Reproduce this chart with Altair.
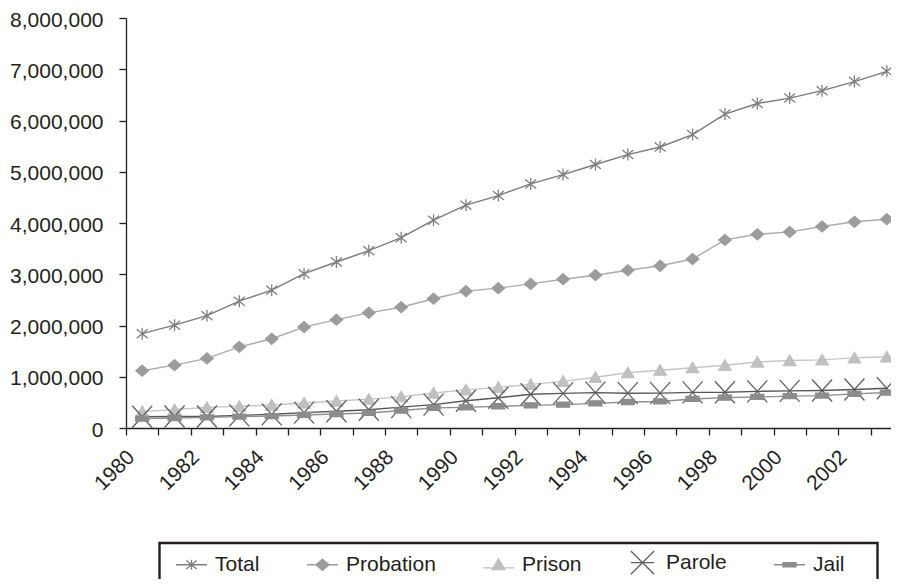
import altair as alt
import pandas as pd

years = list(range(1980, 2004))
total = [1840400, 2006600, 2192600, 2475100, 2689200, 3011500, 3239400, 3459600,
         3714100, 4055600, 4348000, 4535600, 4762600, 4944000, 5141300, 5335100,
         5482700, 5725800, 6126100, 6331400, 6437400, 6581700, 6758800, 6960000]
probation = [1118097, 1225934, 1357264, 1582947, 1740948, 1968712, 2114621, 2247158,
             2356483, 2522125, 2670234, 2728472, 2811611, 2903061, 2981022, 3077861,
             3164996, 3296513, 3670441, 3779922, 3826209, 3931731, 4024067, 4073987]
prison = [319598, 360029, 402914, 423898, 448264, 487593, 526436, 562814,
          607766, 683367, 743382, 792535, 850566, 909381, 990147, 1078542,
          1127528, 1176564, 1224469, 1287172, 1316333, 1330007, 1367547, 1390279]
parole = [220438, 225539, 224604, 246440, 266992, 300203, 325638, 355505,
          407977, 456803, 531407, 590442, 658601, 676100, 690371, 679421,
          679733, 694787, 696385, 714457, 723898, 732333, 750934, 774588]
jail = [182288, 195085, 207853, 221815, 233018, 254986, 272736, 294092,
        341893, 393303, 403019, 424129, 441781, 455500, 479800, 507044,
        518492, 567079, 592462, 605943, 621149, 631240, 665475, 691301]

series_names = ["Total", "Probation", "Prison", "Parole", "Jail"]
series_values = [total, probation, prison, parole, jail]
y_ticks = [0, 1000000, 2000000, 3000000, 4000000, 5000000, 6000000, 7000000, 8000000]

line_colors = ["#7b7b7b", "#ababab", "#c6c6c6", "#575757", "#8f8f8f"]
marker_colors = ["#7f7f7f", "#9c9c9c", "#c0c0c0", "#606060", "#8c8c8c"]

chart_shapes = [
    "M0,-0.6L0,0.6M-0.55,-0.45L0.55,0.45M-0.55,0.45L0.55,-0.45",
    "M0,-0.55L0.62,0L0,0.55L-0.62,0Z",
    "M0,-0.55L0.62,0.5L-0.62,0.5Z",
    "M-1,-1.1L1,1.1M-1,1.1L1,-1.1",
    "M-0.65,-0.25L0.65,-0.25L0.65,0.25L-0.65,0.25Z",
]
legend_shapes = [
    "M-1,0L1,0M0,-0.33L0,0.33M-0.33,-0.28L0.33,0.28M-0.33,0.28L0.33,-0.28",
    "M-1,0L-0.42,0M0.42,0L1,0M0,-0.36L0.42,0L0,0.36L-0.42,0Z",
    "M-1,0.2L1,0.2M0,-0.38L0.42,0.32L-0.42,0.32Z",
    "M-0.75,0L0.75,0M-0.75,-0.75L0.75,0.75M-0.75,0.75L0.75,-0.75",
    "M-1,0L1,0M-0.42,-0.13L0.42,-0.13L0.42,0.13L-0.42,0.13Z",
]

rows = []
for name, vals in zip(series_names, series_values):
    for yr, v in zip(years, vals):
        rows.append({"year": yr, "series": name, "value": v})
df = pd.DataFrame(rows)

FONT = "Liberation Sans"
TXT = "#231f20"

x_enc = alt.X(
    "year:O",
    bandPosition=0.5,
    scale=alt.Scale(type="band", paddingInner=0, paddingOuter=0, range=[0, 777]),
    axis=alt.Axis(
        title=None, labelAngle=-45, labelAlign="right", labelBaseline="top",
        labelOffset=-19, labelPadding=11, tickBand="extent", tickSize=7,
        labelExpr="datum.value % 2 == 0 ? datum.label : ''",
        labelFont=FONT, labelFontSize=21, labelColor=TXT,
        domainColor=TXT, tickColor=TXT, domainWidth=1.3, tickWidth=1.3,
        grid=False, labelOverlap=False,
    ),
)
y_enc = alt.Y(
    "value:Q",
    scale=alt.Scale(domain=[0, 8000000], nice=False, zero=True),
    axis=alt.Axis(
        title=None, values=y_ticks, format=",d", tickSize=7, labelPadding=16,
        labelOffset=2,
        labelFont=FONT, labelFontSize=21, labelColor=TXT,
        domainColor=TXT, tickColor=TXT, domainWidth=1.3, tickWidth=1.3,
        grid=False,
    ),
)

lines = alt.Chart(df).mark_line(strokeWidth=1.4).encode(
    x=x_enc, y=y_enc,
    color=alt.Color("series:N", scale=alt.Scale(domain=series_names, range=line_colors), legend=None),
)

points = alt.Chart(df).mark_point(filled=True, size=400, strokeWidth=1.3, opacity=1).encode(
    x=x_enc, y=y_enc,
    shape=alt.Shape("series:N", scale=alt.Scale(domain=series_names, range=chart_shapes), legend=None),
    fill=alt.Fill("series:N", scale=alt.Scale(domain=series_names, range=marker_colors), legend=None),
    stroke=alt.Stroke("series:N", scale=alt.Scale(domain=series_names, range=marker_colors), legend=None),
)

leg = alt.Legend(
    title=None, orient="none", legendX=49, legendY=528, direction="horizontal",
    columns=5, symbolSize=961, labelFont=FONT, labelFontSize=21, labelColor=TXT,
    labelOffset=7, columnPadding=44, padding=0, symbolStrokeWidth=1.3, labelLimit=0,
)
legend_layer = alt.Chart(df).transform_filter("false").mark_point(
    filled=True, size=961, strokeWidth=1.3, opacity=1
).encode(
    shape=alt.Shape("series:N", scale=alt.Scale(domain=series_names, range=legend_shapes), legend=leg),
    fill=alt.Fill("series:N", scale=alt.Scale(domain=series_names, range=marker_colors), legend=leg),
    stroke=alt.Stroke("series:N", scale=alt.Scale(domain=series_names, range=marker_colors), legend=leg),
)

box = alt.Chart(alt.Data(values=[{"k": 1}])).mark_rect(
    fillOpacity=0, stroke=TXT, strokeWidth=2.4
).encode(
    x=alt.value(33.5), x2=alt.value(751.5), y=alt.value(525), y2=alt.value(600)
)

chart = alt.layer(lines, points, legend_layer, box).resolve_scale(
    shape="independent", fill="independent", stroke="independent"
).properties(
    width=765, height=410,
    autosize=alt.AutoSizeParams(type="none"),
    padding={"left": 118, "top": 10, "right": 0, "bottom": 151},
    background="white",
).configure_view(stroke=None)

chart.save("out.html", embed_options={"renderer": "svg", "actions": False})
